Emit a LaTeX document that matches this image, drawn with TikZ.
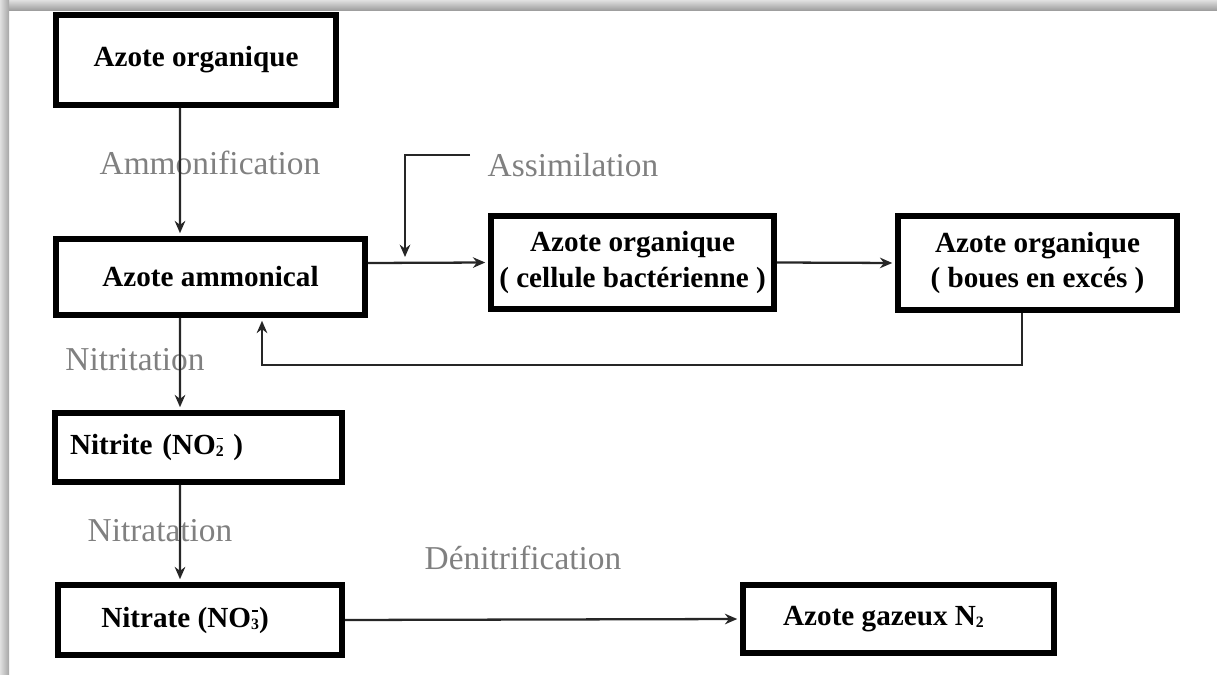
\documentclass[tikz,border=0pt]{standalone}
\usepackage{fontspec}
\setmainfont{Liberation Serif}[BoldFont={Liberation Serif Bold}]
\usetikzlibrary{positioning, arrows.meta}

\tikzset{
  box/.style={draw=black, line width=3.4pt, fill=white, inner sep=0pt,
    font=\fontsize{16.6}{20}\selectfont\bfseries, align=center},
  stage/.style={text=black!50, font=\fontsize{19}{22}\selectfont, inner sep=0pt},
  arr/.style={draw=black!85, line width=1.3pt, -{Stealth[length=7pt,width=6pt]}, shorten >=1.6pt},
}
\newcommand{\smallsub}[1]{\raisebox{-0.15ex}{\fontsize{9}{9}\selectfont #1}}
\newcommand{\ionsub}[1]{\rlap{\hspace{0.5pt}\raisebox{1.15ex}{\rule{3.5pt}{0.7pt}}}\smallsub{#1}}

\begin{document}
\begin{tikzpicture}[x=0.02cm, y=-0.02cm]
\useasboundingbox (0,0) rectangle (1217,675);
% page shadow
\shade[top color=black!12, bottom color=black!40] (0,0) rectangle (1217,11);
\shade[left color=black!12, right color=black!35] (0,0) rectangle (9,675);

% boxes
\node[box, minimum width=5.62cm, minimum height=1.80cm] (org) at (196,60) {Azote organique};
\node[box, minimum width=6.18cm, minimum height=1.52cm] (amm) at (210.5,277) {Azote ammonical};
\node[box, minimum width=5.66cm, minimum height=1.86cm] (cell) at (632.5,262.5) {Azote organique\\( cellule bactérienne )};
\node[box, minimum width=5.58cm, minimum height=1.88cm] (boues) at (1037.5,263) {Azote organique\\( boues en excés )};
\node[box, minimum height=1.38cm, text width=5.14cm, inner xsep=0.3cm, align=left] (nitrite) at (198.5,447.5) {Nitrite (NO\ionsub{2} )};
\node[box, minimum width=5.68cm, minimum height=1.40cm] (nitrate) at (200,620) {\hspace*{-0.6cm}Nitrate (NO\ionsub{3})};
\node[box, minimum width=6.22cm, minimum height=1.36cm] (gaz) at (898.5,619) {\hspace*{-0.6cm}Azote gazeux N\smallsub{2}};

% stage labels
\node[stage] (ammonif) at (210,163) {Ammonification};
\node[stage] (assimil) at (573,165) {Assimilation};
\node[stage] (nitritat) at (135,360) {Nitritation};
\node[stage] (nitratat) at (160,531) {Nitratation};
\node[stage] (denitrif) at (523,558) {Dénitrification};

% connectors
\draw[arr] ([xshift=-0.32cm]org.south) -- ([xshift=-0.61cm]amm.north);
\draw[arr] ([yshift=0.28cm]amm.east) -- (cell.west);
\coordinate (asA) at (470,155);
\coordinate (asB) at (405,257);
\draw[arr, shorten >=0pt] (asA) -| (asB);
\draw[arr] (cell.east) -- (boues.west);
\draw[arr] ([xshift=-0.31cm]boues.south) -- ++(0,52) -| ([xshift=1.03cm]amm.south);
\draw[arr] ([xshift=-0.61cm]amm.south) -- ([xshift=-0.37cm]nitrite.north);
\draw[arr] ([xshift=-0.37cm]nitrite.south) -- ([xshift=-0.40cm]nitrate.north);
\draw[arr] (nitrate.east) -- (gaz.west);
\end{tikzpicture}
\end{document}
